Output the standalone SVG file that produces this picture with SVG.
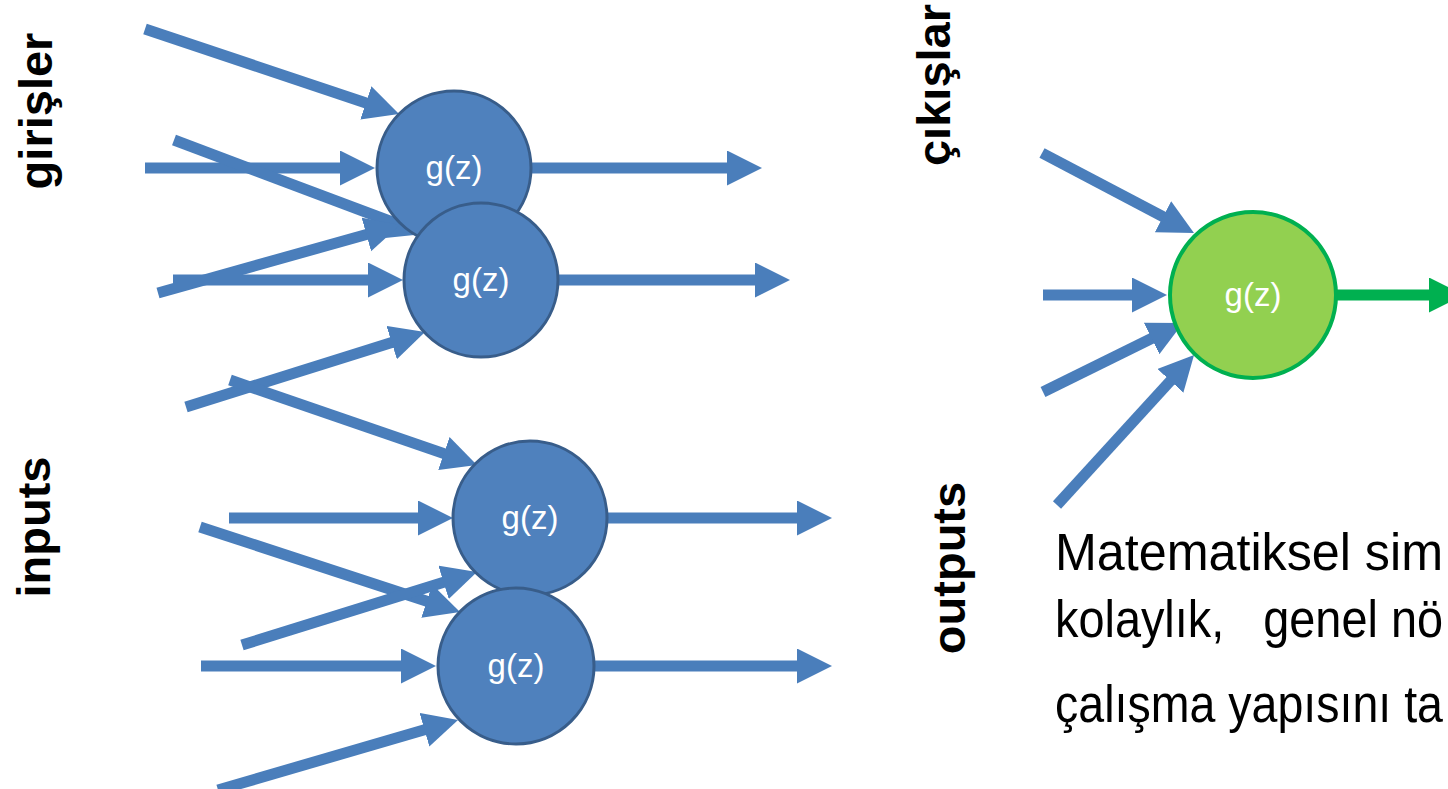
<svg xmlns="http://www.w3.org/2000/svg" width="1448" height="789" viewBox="0 0 1448 789">
<style>
.bl{stroke:#4A7EBB;stroke-width:11;fill:none;marker-end:url(#ab)}
.gr{stroke:#00B050;stroke-width:11;fill:none;marker-end:url(#ag)}
.nd{fill:#4F81BD;stroke:#385D8A;stroke-width:3}
.gn{fill:#92D050;stroke:#00B050;stroke-width:4}
.lb{font-family:"Liberation Sans",Arial,sans-serif;font-size:33px;fill:#FFFFFF;text-anchor:middle}
.vt{font-family:"Liberation Sans",Arial,sans-serif;font-size:47px;font-weight:bold;fill:#000000;text-anchor:middle}
.tx{font-family:"Liberation Sans",Arial,sans-serif;font-size:51px;fill:#000000;white-space:pre}
</style>
<defs>
<marker id="ab" markerUnits="userSpaceOnUse" markerWidth="36" markerHeight="36" viewBox="0 0 36 36" refX="1" refY="17.5" orient="auto"><path d="M0,0 L35,17.5 L0,35 z" fill="#4A7EBB"/></marker>
<marker id="ag" markerUnits="userSpaceOnUse" markerWidth="36" markerHeight="36" viewBox="0 0 36 36" refX="1" refY="17.5" orient="auto"><path d="M0,0 L35,17.5 L0,35 z" fill="#00B050"/></marker>
</defs>
<g id="connectors">
<line class="bl" x1="145" y1="29" x2="366.8" y2="103.2"/>
<line class="bl" x1="145" y1="168" x2="341" y2="168"/>
<line class="bl" x1="174" y1="140" x2="392.2" y2="222"/>
<line class="bl" x1="158" y1="293" x2="367.3" y2="234.2"/>
<line class="bl" x1="173" y1="280" x2="369" y2="280"/>
<line class="bl" x1="186" y1="407" x2="392.6" y2="342.2"/>
<line class="bl" x1="230" y1="380" x2="444.8" y2="453.9"/>
<line class="bl" x1="229" y1="518" x2="419" y2="518"/>
<line class="bl" x1="200" y1="527" x2="427.7" y2="601.4"/>
<line class="bl" x1="242" y1="645" x2="444.5" y2="582.1"/>
<line class="bl" x1="201" y1="666" x2="402" y2="666"/>
<line class="bl" x1="218" y1="790" x2="425.4" y2="729.5"/>
<line class="bl" x1="530" y1="168" x2="728" y2="168"/>
<line class="bl" x1="556" y1="280" x2="756" y2="280"/>
<line class="bl" x1="605" y1="518" x2="798" y2="518"/>
<line class="bl" x1="592" y1="666" x2="798" y2="666"/>
<line class="bl" x1="1042" y1="153" x2="1163.9" y2="217.2"/>
<line class="bl" x1="1043" y1="295" x2="1133" y2="295"/>
<line class="bl" x1="1043" y1="392" x2="1152.5" y2="338"/>
<line class="bl" x1="1057" y1="505" x2="1171.1" y2="380.1"/>
<line class="gr" x1="1335" y1="295" x2="1430" y2="295"/>
</g>
<g id="node1"><circle class="nd" cx="454" cy="168" r="77"/><text class="lb" x="454" y="179">g(z)</text></g>
<g id="node2"><circle class="nd" cx="481" cy="280" r="77"/><text class="lb" x="481" y="291">g(z)</text></g>
<g id="node3"><circle class="nd" cx="530" cy="518" r="77"/><text class="lb" x="530" y="529">g(z)</text></g>
<g id="node4"><circle class="nd" cx="516" cy="666" r="78"/><text class="lb" x="516" y="677">g(z)</text></g>
<g id="node5"><circle class="gn" cx="1253" cy="295" r="83"/><text class="lb" x="1253" y="306">g(z)</text></g>
<g id="labels">
<text class="vt" transform="translate(52,111) rotate(-90)">girişler</text>
<text class="vt" transform="translate(50,527) rotate(-90)">inputs</text>
<text class="vt" transform="translate(950,85) rotate(-90)">çıkışlar</text>
<text class="vt" transform="translate(965,568) rotate(-90)">outputs</text>
</g>
<g id="description">
<text class="tx" x="1055" y="570" textLength="388" lengthAdjust="spacingAndGlyphs">Matematiksel sim</text>
<text class="tx" x="1055" y="637" textLength="388" lengthAdjust="spacingAndGlyphs">kolaylık,   genel nö</text>
<text class="tx" x="1055" y="722" textLength="388" lengthAdjust="spacingAndGlyphs">çalışma yapısını ta</text>
</g>
</svg>
